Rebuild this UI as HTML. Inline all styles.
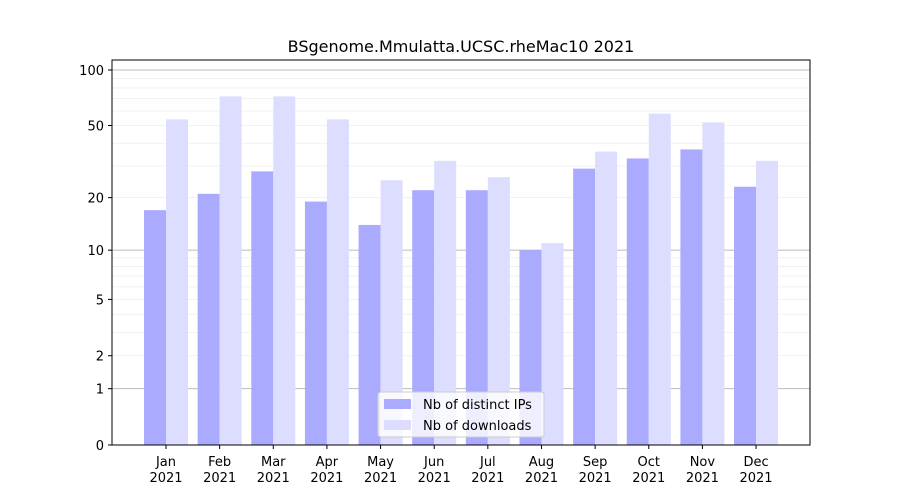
<!DOCTYPE html>
<html><head><meta charset="utf-8"><style>
body{margin:0;background:#fff;font-family:"DejaVu Sans","Liberation Sans",sans-serif;}
</style></head><body>
<svg id="c" width="900" height="500" xmlns="http://www.w3.org/2000/svg" style="font-family:'DejaVu Sans','Liberation Sans',sans-serif"></svg>
<script>
const months=["Jan","Feb","Mar","Apr","May","Jun","Jul","Aug","Sep","Oct","Nov","Dec"];
const ips=[17,21,28,19,14,22,22,10,29,33,37,23];
const downloads=[54,72,72,54,25,32,26,11,36,58,52,32];
const tickVals=[0,1,2,5,10,20,50,100];
const L=112,R=810,T=60,B=445;
const K=187.1;
function y(v){return B-K*Math.log10(v+1);}
function xc(i){return 166+i*53.64;}
const svg=document.getElementById('c');
const NS="http://www.w3.org/2000/svg";
function mk(t,a,p){const e=document.createElementNS(NS,t);for(const k in a)e.setAttribute(k,a[k]);(p||svg).appendChild(e);return e;}
// grid
const gridG=mk('g',{});


for(let d=1;d<=100;d*=10){for(let m=1;m<10;m++){const v=d*m;if(v>113)break;const yy=y(v);
 mk('line',{x1:L,x2:R,y1:yy,y2:yy,stroke:m==1?'#bbb':'#eee','stroke-width':m==1?1:0.8},gridG);}}
// bars
months.forEach((m,i)=>{
 const b1=mk('rect',{x:xc(i)-22,y:y(ips[i]),width:22,height:B-y(ips[i]),fill:'#aaaaff'});
 
 
 const b2=mk('rect',{x:xc(i),y:y(downloads[i]),width:22,height:B-y(downloads[i]),fill:'#ddddff'});
 
 
 mk('line',{x1:xc(i),x2:xc(i),y1:B,y2:B+4,stroke:'#000'});
 const t=mk('text',{x:xc(i),y:B+21,'text-anchor':'middle','font-size':13});
 t.textContent=m;
 
 
 const t2=mk('text',{x:xc(i),y:B+37,'text-anchor':'middle','font-size':13});
 t2.textContent='2021';
 
 
});
// y ticks
tickVals.forEach(v=>{const yy=y(v);mk('line',{x1:L-4,x2:L,y1:yy,y2:yy,stroke:'#000'});
 const t=mk('text',{x:L-8,y:yy+5,'text-anchor':'end','font-size':13});t.textContent=v;
 
 });
const ax=mk('rect',{x:L,y:T,width:R-L,height:B-T,fill:'none',stroke:'#000'});


const ti=mk('text',{x:461,y:52,'text-anchor':'middle','font-size':16});
ti.textContent='BSgenome.Mmulatta.UCSC.rheMac10 2021';


// legend
const lg=mk('g',{});


mk('rect',{x:378,y:392,width:166,height:45,rx:3,fill:'#fff','fill-opacity':0.8,stroke:'#ccc'},lg);
mk('rect',{x:384,y:399,width:27,height:10,fill:'#aaaaff'},lg);
mk('rect',{x:384,y:420,width:27,height:10,fill:'#ddddff'},lg);
const l1=mk('text',{x:423,y:409,'font-size':13},lg);l1.textContent='Nb of distinct IPs';
const l2=mk('text',{x:423,y:430,'font-size':13},lg);l2.textContent='Nb of downloads';
</script>
</body></html>
